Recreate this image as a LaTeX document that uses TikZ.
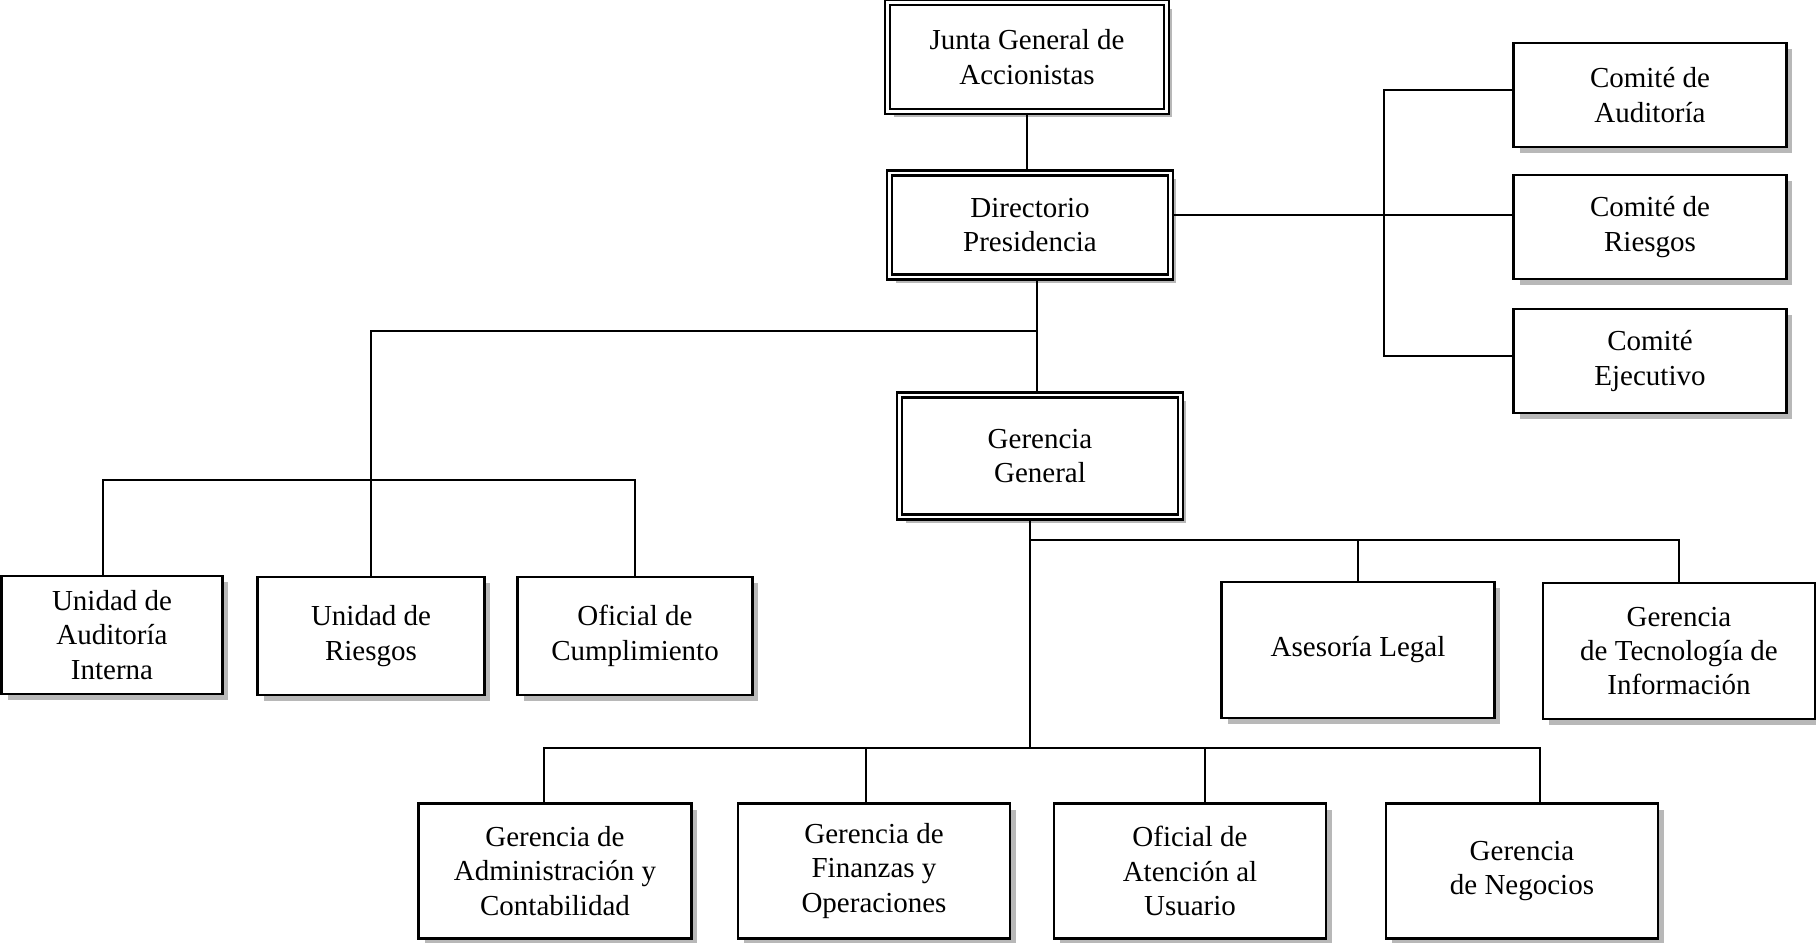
\documentclass[tikz,border=0pt]{standalone}
\usepackage{fontspec}
\setmainfont{Liberation Serif}
\usepackage{tikz}
\usetikzlibrary{shadows}

\begin{document}
\begin{tikzpicture}[
  x=0.02cm, y=-0.02cm,
  font=\fontsize{16.5}{19.5}\selectfont,
  box/.style={draw,line width=1.2pt,fill=white,align=center,inner sep=2pt,
    minimum width=5.46cm,minimum height=2.7cm,
    drop shadow={shadow xshift=1.2mm,shadow yshift=-1.2mm,fill=black!28,opacity=1}},
  head/.style={box,double,line width=1.6pt,double distance=1.3pt},
  ln/.style={line width=0.9pt}]

\useasboundingbox (0,0) rectangle (1816,943);

% upper levels
\node[head,minimum width=5.58cm,minimum height=2.18cm] (junta) at (1027,57) {Junta General de\\Accionistas};
\node[head,minimum width=5.62cm,minimum height=2.08cm] (dir) at (1030,225) {Directorio\\Presidencia};
\node[head,minimum width=5.62cm,minimum height=2.44cm] (gg) at (1040,456) {Gerencia\\General};

% comites
\node[box,minimum height=2.08cm] (ca) at (1650,95) {Comité de\\Auditoría};
\node[box,minimum height=2.08cm] (cr) at (1650,227) {Comité de\\Riesgos};
\node[box,minimum height=2.08cm] (ce) at (1650,361) {Comité\\Ejecutivo};

% unidades del directorio
\node[box,minimum width=4.42cm,minimum height=2.36cm] (ua) at (112,635) {Unidad de\\Auditoría\\Interna};
\node[box,minimum width=4.54cm,minimum height=2.36cm] (ur) at (371,636) {Unidad de\\Riesgos};
\node[box,minimum width=4.7cm,minimum height=2.36cm] (oc) at (635,636) {Oficial de\\Cumplimiento};

% staff de gerencia
\node[box,minimum height=2.72cm] (al) at (1358,650) {Asesoría Legal};
\node[box,minimum width=5.44cm,minimum height=2.72cm] (gti) at (1679,651) {Gerencia\\de Tecnología de\\Información};

% gerencias de linea
\node[box] (gac) at (555,871) {Gerencia de\\Administración y\\Contabilidad};
\node[box,minimum width=5.44cm] (gfo) at (874,871) {Gerencia de\\Finanzas y\\Operaciones};
\node[box,minimum width=5.44cm] (oau) at (1190,871) {Oficial de\\Atención al\\Usuario};
\node[box,minimum width=5.44cm] (gn) at (1522,871) {Gerencia\\de Negocios};

\coordinate (cbus) at (1384,215);
\coordinate (lbus) at (0,331);
\coordinate (ubus) at (0,480);
\coordinate (gbus) at (1030,540);
\coordinate (bbus) at (0,748);

\draw[ln] (junta.south) -- (junta.south |- dir.north);
\draw[ln] (dir.east |- cbus) -- (cr.west |- cbus);
\draw[ln] ([yshift=0.1cm]ca.west) -- ([yshift=0.1cm]ca.west -| cbus) -- ([yshift=0.1cm]ce.west -| cbus) -- ([yshift=0.1cm]ce.west);
\draw[ln] ([xshift=-0.06cm]gg.north) -- ([xshift=-0.06cm]gg.north |- dir.south);
\draw[ln] ([xshift=-0.06cm]gg.north |- lbus) -| (ur.north);
\draw[ln] ([xshift=-0.18cm]ua.north) |- (oc.north |- ubus) -- (oc.north);
\draw[ln] (gg.south -| gbus) -- (gbus |- bbus);
\draw[ln] (gbus) -| (gti.north);
\draw[ln] (al.north |- gbus) -- (al.north);
\draw[ln] ([xshift=-0.22cm]gac.north) |- ([xshift=0.36cm]gn.north |- bbus) -- ([xshift=0.36cm]gn.north);
\foreach \n/\dx in {gfo/-0.16,oau/0.3} \draw[ln] ([xshift=\dx cm]\n.north |- bbus) -- ([xshift=\dx cm]\n.north);
\end{tikzpicture}
\end{document}
